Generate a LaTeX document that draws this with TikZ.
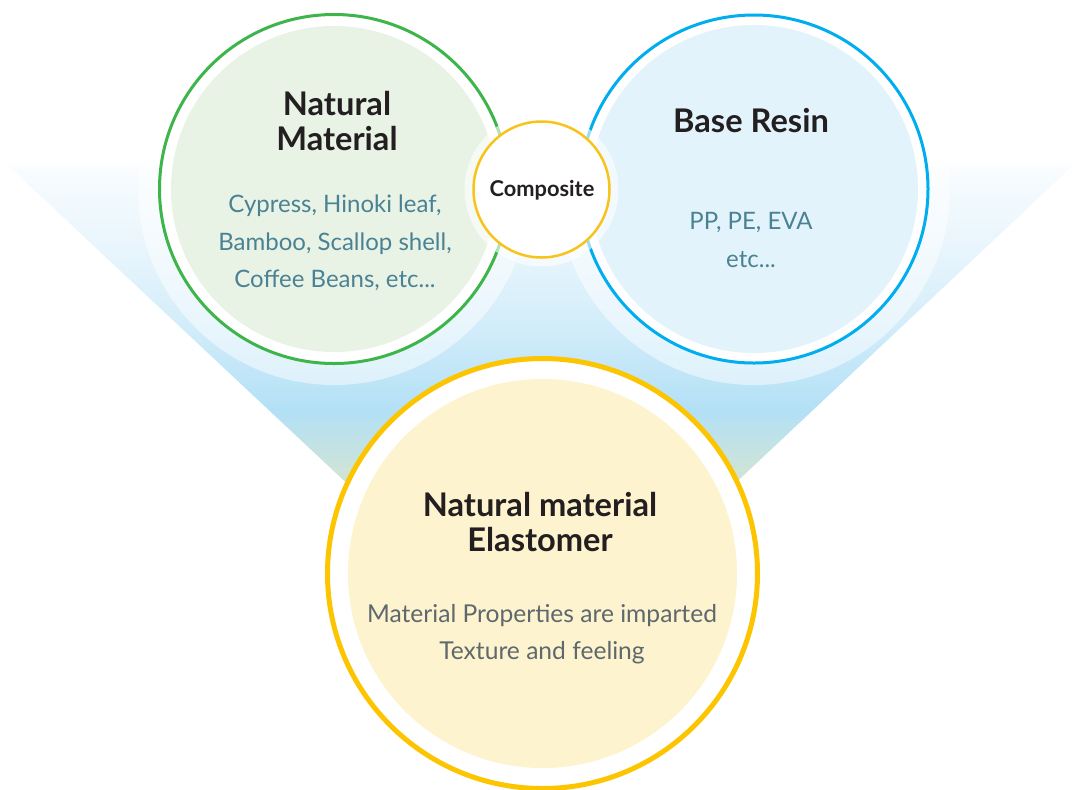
\documentclass[tikz,border=0pt]{standalone}
\usepackage{fontspec}
\setmainfont{Lato}
\usepackage{xcolor}

\definecolor{natgreen}{HTML}{3DB54A}
\definecolor{natfill}{HTML}{E8F3E6}
\definecolor{resinblue}{HTML}{00AEEF}
\definecolor{resinfill}{HTML}{E3F3FB}
\definecolor{compyellow}{HTML}{F8C41B}
\definecolor{elastyellow}{HTML}{FDC500}
\definecolor{elastfill}{HTML}{FDF3CF}
\definecolor{titletext}{HTML}{231F20}
\definecolor{listtext}{HTML}{4A8294}
\definecolor{greytext}{HTML}{5E686D}
\definecolor{funnelgreen}{HTML}{D6E5CE}
\definecolor{funnelblue}{HTML}{B3E0F6}
\definecolor{funnelpale}{HTML}{D3EDFA}
\definecolor{funnelmist}{HTML}{E8F5FC}
\definecolor{funnelwhite}{HTML}{F6FBFE}

\pgfdeclareverticalshading{funnel}{100bp}{color(0bp)=(funnelgreen); color(25bp)=(funnelgreen); color(37bp)=(funnelblue); color(50bp)=(funnelpale); color(61bp)=(funnelmist); color(72bp)=(funnelwhite); color(75bp)=(white); color(100bp)=(white)}

\begin{document}
\begin{tikzpicture}[x=0.5pt,y=-0.5pt,
    title/.style={font=\bfseries\fontsize{16.3}{17.5}\selectfont, text=titletext, align=center},
    list/.style={font=\fontsize{12}{18.75}\selectfont, text=listtext, align=center},
    halo/.style={fill=white, fill opacity=0.5}]
    \useasboundingbox (0,0) rectangle (1081,789);
    \clip (0,0) rectangle (1081,789);

    % Place the circle centres
    \coordinate (natural) at (334,189);
    \coordinate (resin) at (754,189);
    \coordinate (composite) at (541.5,189.5);
    \coordinate (elastomer) at (542.5,573.5);

    % Draw the background funnel
    \shade[shading=funnel] (0,158) -- (1081,158) -- (728,490) -- (354,490) -- cycle;

    % Draw the circles
    \fill[halo] (natural) circle (196);
    \fill[halo] (resin) circle (196);
    \filldraw[fill=white, draw=natgreen, line width=1.5pt] (natural) circle (174.5);
    \fill[natfill] (natural) circle (163);
    \filldraw[fill=white, draw=resinblue, line width=1.5pt] (resin) circle (174);
    \fill[resinfill] (resin) circle (164);
    \fill[halo, fill opacity=0.6] (composite) circle (77);
    \filldraw[fill=white, draw=compyellow, line width=1.25pt] (composite) circle (68);
    \filldraw[fill=white, draw=elastyellow, line width=2.5pt] (elastomer) circle (215);
    \fill[elastfill] (elastomer) circle (194.5);

    % Add the labels
    \node[title] (naturaltitle) at (337,121) {Natural\\Material};
    \node[list] (naturallist) at (335,243) {Cypress, Hinoki leaf,\\Bamboo, Scallop shell,\\Coffee Beans, etc...};
    \node[title] (resintitle) at (751,121) {Base Resin};
    \node[list] (resinlist) at (751,240) {PP, PE, EVA\\etc...};
    \node[font=\bfseries\fontsize{10.9}{12}\selectfont, text=titletext] (compositelabel) at (542,190) {Composite};
    \node[title] (elastomertitle) at (540,522) {Natural material\\Elastomer};
    \node[list, font=\fontsize{12.3}{18.75}\selectfont, text=greytext] (elastomernote) at (542,634) {Material Properties are imparted\\Texture and feeling};
\end{tikzpicture}
\end{document}
